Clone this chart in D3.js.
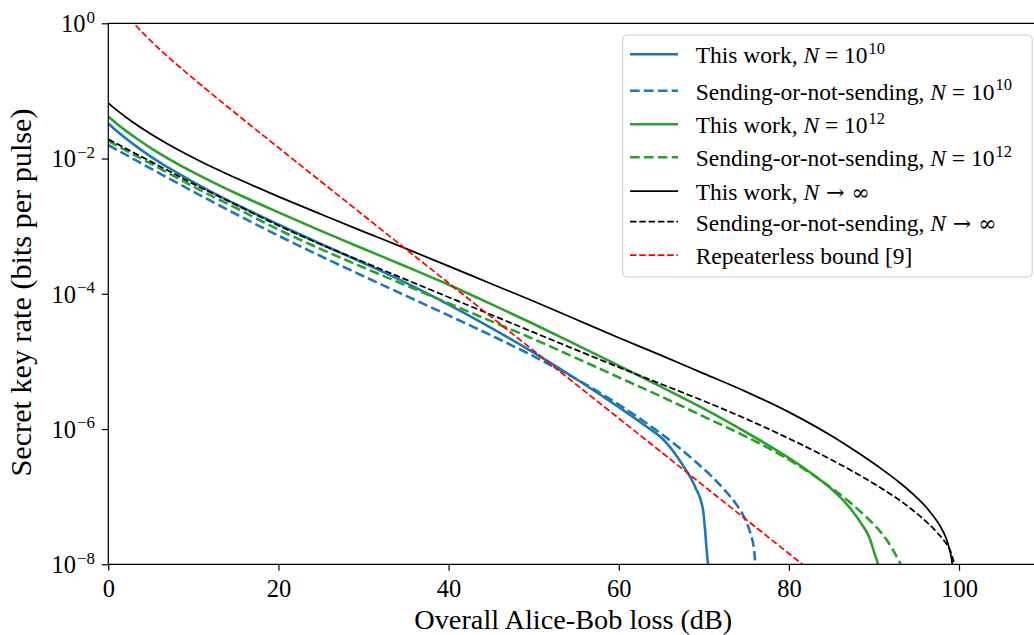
<!DOCTYPE html>
<html><head><meta charset="utf-8">
<script src="https://cdn.jsdelivr.net/npm/d3@7"></script>
<style>
body{margin:0;background:#fff}
svg{display:block}
text{font-family:"Liberation Serif","DejaVu Serif",serif;fill:#000}
</style>
</head><body>
<svg id="chart" width="1034" height="635"></svg>
<script>
// ---------------- data ----------------
const lossBlueSolid = [0,1,2,3.5,5,7.5,10,12.5,15,20,25,30,35,40,45,50,55,60,63,65.5,67.5,69,69.9,70.5,70.6];
const rateBlueSolid = [3.31e-2,2.56e-2,2.02e-2,1.45e-2,1.07e-2,6.78e-3,4.48e-3,3.03e-3,2.11e-3,1.06e-3,5.46e-4,2.85e-4,1.45e-4,6.92e-5,3.13e-5,1.35e-5,5.50e-6,2.11e-6,1.15e-6,6.47e-7,2.96e-7,1.38e-7,6.46e-8,1.0e-8,8e-9];

const lossBlueDashed = [0,2,5,7.5,10,12.5,15,20,25,30,35,40,45,50,55,58,61,64,67,69,71,72.5,73.8,74.8,75.5,75.9,76.05,76.1];
const rateBlueDashed = [1.58e-2,1.15e-2,7.10e-3,4.79e-3,3.24e-3,2.21e-3,1.51e-3,7.24e-4,3.59e-4,1.82e-4,9.33e-5,4.79e-5,2.43e-5,1.19e-5,5.50e-6,3.31e-6,1.91e-6,1.05e-6,5.43e-7,3.31e-7,1.95e-7,1.23e-7,7.76e-8,4.79e-8,2.82e-8,1.66e-8,1.0e-8,7e-9];

const lossGreenSolid = [0,1,2,3.5,5,7.5,10,12.5,15,20,25,30,35,40,45,50,55,60,65,70,75,78,81,83.5,85.5,87,88.5,89.5,90.1,90.45,90.55];
const rateGreenSolid = [4.17e-2,3.27e-2,2.61e-2,1.91e-2,1.43e-2,9.27e-3,6.25e-3,4.34e-3,3.07e-3,1.60e-3,8.53e-4,4.63e-4,2.53e-4,1.36e-4,7.05e-5,3.57e-5,1.77e-5,8.67e-6,4.20e-6,2.00e-6,8.91e-7,5.37e-7,3.09e-7,1.84e-7,1.14e-7,7.24e-8,4.03e-8,2.43e-8,1.40e-8,1.0e-8,6.3e-9];

const lossGreenDashed = [0,2,5,7.5,10,12.5,15,20,25,30,35,40,45,50,55,60,65,70,75,78,81,84,87,89,90.5,91.5,92.3,92.8,93.2,93.3];
const rateGreenDashed = [1.82e-2,1.33e-2,8.41e-3,5.69e-3,3.85e-3,2.66e-3,1.86e-3,8.91e-4,4.57e-4,2.45e-4,1.33e-4,7.24e-5,3.94e-5,2.14e-5,1.12e-5,5.82e-6,3.02e-6,1.53e-6,7.67e-7,4.90e-7,2.95e-7,1.66e-7,8.61e-8,5.13e-8,3.31e-8,2.29e-8,1.58e-8,1.20e-8,9.3e-9,6.3e-9];

const lossBlackSolid = [0,1,2,3.5,5,7.5,10,12.5,15,20,25,30,35,40,45,50,55,60,65,70,75,80,85,88,91,93,95,96.5,97.8,98.5,98.9,99.2,99.25];
const rateBlackSolid = [6.61e-2,5.20e-2,4.16e-2,3.05e-2,2.31e-2,1.51e-2,1.03e-2,7.19e-3,5.15e-3,2.74e-3,1.50e-3,8.32e-4,4.65e-4,2.57e-4,1.41e-4,7.76e-5,4.17e-5,2.24e-5,1.23e-5,6.61e-6,3.55e-6,1.78e-6,7.94e-7,4.57e-7,2.51e-7,1.62e-7,9.77e-8,6.17e-8,3.63e-8,2.40e-8,1.62e-8,1.0e-8,5e-9];

const lossBlackDashed = [0,2,5,7.5,10,12.5,15,20,25,30,35,40,45,50,55,60,65,70,75,80,85,88,91,93,95,96.5,97.5,98.3,98.9,99.2,99.4,99.45];
const rateBlackDashed = [1.93e-2,1.42e-2,9.02e-3,6.17e-3,4.22e-3,2.95e-3,2.07e-3,1.02e-3,5.37e-4,2.95e-4,1.62e-4,8.91e-5,4.90e-5,2.69e-5,1.48e-5,8.22e-6,4.62e-6,2.60e-6,1.41e-6,7.24e-7,3.51e-7,2.19e-7,1.30e-7,8.91e-8,5.69e-8,3.89e-8,2.88e-8,2.19e-8,1.66e-8,1.32e-8,1.0e-8,7.9e-9];

const lossRepeaterless = [2.5,3,4,5,6,8,10,12,15,20,25,30,35,40,50,60,70,80,82];
const rateRepeaterless = [1.192,1.003,0.732,0.548,0.417,0.249,0.152,0.094,0.0463,0.0145,4.57e-3,1.443e-3,4.56e-4,1.443e-4,1.443e-5,1.443e-6,1.443e-7,1.443e-8,9.1e-9];

const xTickValues = [0,20,40,60,80,100];
const yTickValues = [1,1e-2,1e-4,1e-6,1e-8];
const yTickExponents = ["0","\u22122","\u22124","\u22126","\u22128"];
const xAxisLabel = "Overall Alice-Bob loss (dB)";
const yAxisLabel = "Secret key rate (bits per pulse)";

// ---------------- layout / styles ----------------
const L = 108.3, R = 1044.1, T = 23.3, B = 564.3;
const blue = "#1f77b4", green = "#2ca02c";

const series = [
  {loss: lossBlueSolid,  rate: rateBlueSolid,  color: blue,  w: 2.6, dash: null,
   label: [["This work, "],["N","i"],[" = 10"],["10","s"]], ly: 54.3},
  {loss: lossBlueDashed, rate: rateBlueDashed, color: blue,  w: 2.6, dash: "9.7,4.2",
   label: [["Sending-or-not-sending, "],["N","i"],[" = 10"],["10","s"]], ly: 90.7},
  {loss: lossGreenSolid, rate: rateGreenSolid, color: green, w: 2.6, dash: null,
   label: [["This work, "],["N","i"],[" = 10"],["12","s"]], ly: 124.3},
  {loss: lossGreenDashed,rate: rateGreenDashed,color: green, w: 2.6, dash: "9.7,4.2",
   label: [["Sending-or-not-sending, "],["N","i"],[" = 10"],["12","s"]], ly: 157.3},
  {loss: lossBlackSolid, rate: rateBlackSolid, color: "#000", w: 1.75, dash: null,
   label: [["This work, "],["N","i"],[" \u2192 \u221E","m"]], ly: 191},
  {loss: lossBlackDashed,rate: rateBlackDashed,color: "#000", w: 1.75, dash: "6.5,2.8",
   label: [["Sending-or-not-sending, "],["N","i"],[" \u2192 \u221E","m"]], ly: 221.7},
  {loss: lossRepeaterless,rate: rateRepeaterless,color: "#ff0000", w: 1.75, dash: "6.5,2.8",
   label: [["Repeaterless bound [9]"]], ly: 255}
];

const svg = d3.select("#chart");
const x = d3.scaleLinear().domain([0,110]).range([L,R]);
const y = d3.scaleLog().domain([1e-8,1]).range([B,T]);

svg.append("defs").append("clipPath").attr("id","plotclip")
  .append("rect").attr("x",L).attr("y",T).attr("width",R-L).attr("height",B-T);

// curves
const line = d3.line().x(d=>x(d[0])).y(d=>y(d[1])).curve(d3.curveMonotoneX);
const plot = svg.append("g").attr("clip-path","url(#plotclip)");
series.forEach(s=>{
  const pts = s.loss.map((v,i)=>[v, s.rate[i]]);
  plot.append("path").attr("d", line(pts))
    .attr("fill","none").attr("stroke", s.color).attr("stroke-width", s.w)
    .attr("stroke-dasharray", s.dash).attr("stroke-linejoin","round");
});

// axes
const xAxis = d3.axisBottom(x).tickValues(xTickValues).tickSize(6.5).tickFormat(d3.format("d"));
const gx = svg.append("g").attr("transform",`translate(0,${B})`).call(xAxis);
gx.select(".domain").remove();
gx.selectAll(".tick line").attr("stroke","#000").attr("stroke-width",1.2);
gx.selectAll(".tick text").attr("y",32.4).attr("dy",null)
  .attr("font-size","24.5px").attr("font-family",null).attr("fill","#000");

const yAxis = d3.axisLeft(y).tickValues(yTickValues).tickSize(6.5).tickFormat("");
const gy = svg.append("g").attr("transform",`translate(${L},0)`).call(yAxis);
gy.select(".domain").remove();
gy.selectAll(".tick line").attr("stroke","#000").attr("stroke-width",1.2);
gy.selectAll(".tick text").each(function(d,i){
  const t = d3.select(this).attr("x",-13.3).attr("y",8.4).attr("dy",null)
    .attr("text-anchor","end").attr("font-family",null).attr("fill","#000").text(null);
  t.append("tspan").attr("font-size","24.5px").text("10");
  t.append("tspan").attr("font-size","17px").attr("dy",-9.6).attr("dx",1).text(yTickExponents[i]);
});

// spines
const spine = svg.append("g").attr("stroke","#000").attr("stroke-width",1.25).attr("fill","none");
spine.append("line").attr("x1",L).attr("x2",L).attr("y1",T).attr("y2",B);
spine.append("line").attr("x1",L).attr("x2",R).attr("y1",T).attr("y2",T);
spine.append("line").attr("x1",L).attr("x2",R).attr("y1",B).attr("y2",B);

// axis labels (scaled to the reference widths)
function fitText(sel, target){
  const len = sel.node().getComputedTextLength();
  const fs = parseFloat(sel.attr("font-size"));
  sel.attr("font-size", (fs*target/len).toFixed(2)+"px");
}
const xl = svg.append("text").attr("x",573.3).attr("y",628.5).attr("text-anchor","middle")
  .attr("font-size","28px").text(xAxisLabel);
fitText(xl, 318);
const yl = svg.append("text").attr("transform","translate(31,292.5) rotate(-90)")
  .attr("text-anchor","middle").attr("font-size","30px").text(yAxisLabel);
fitText(yl, 368);

// legend
const lg = svg.append("g");
lg.append("rect").attr("x",622.7).attr("y",35).attr("width",409.5).attr("height",242)
  .attr("rx",4).attr("ry",4).attr("fill","#fff").attr("fill-opacity",0.8)
  .attr("stroke","#cccccc").attr("stroke-width",1);
series.forEach(s=>{
  lg.append("line").attr("x1",630).attr("x2",678).attr("y1",s.ly).attr("y2",s.ly)
    .attr("stroke",s.color).attr("stroke-width",s.w).attr("stroke-dasharray",s.dash);
  const t = lg.append("text").attr("x",695.7).attr("y",s.ly+9).attr("font-size","23.5px");
  s.label.forEach(p=>{
    const ts = t.append("tspan").text(p[0]);
    if(p[1]==="i") ts.attr("font-style","italic");
    if(p[1]==="s") ts.attr("font-size","16.5px").attr("dy",-9.5).attr("dx",1);
    if(p[1]==="m") ts.attr("font-family","'DejaVu Serif',serif").attr("font-size","22px");
  });
});
</script>
</body></html>
